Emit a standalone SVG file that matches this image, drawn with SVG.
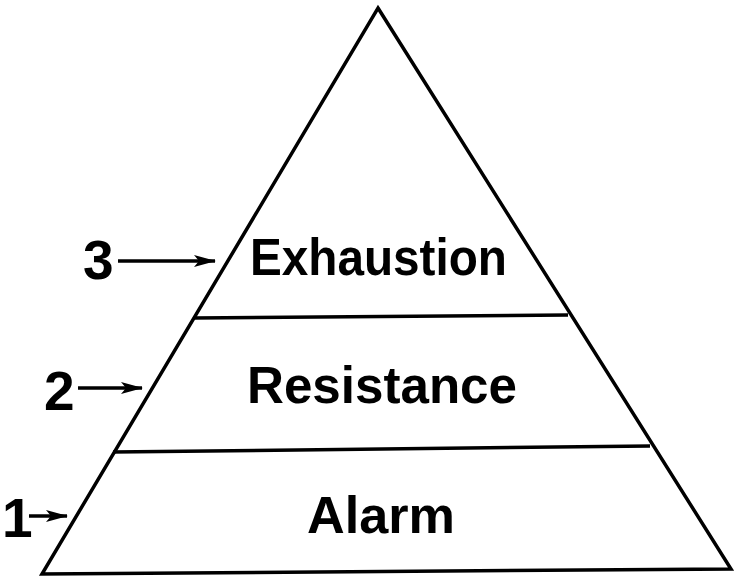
<svg xmlns="http://www.w3.org/2000/svg" width="734" height="576" viewBox="0 0 734 576">
<style>
.ln{stroke:#000;stroke-width:3.5;fill:none;stroke-linejoin:miter}
.lbl{font-family:"Liberation Sans","DejaVu Sans",sans-serif;font-weight:bold;fill:#000}
.num{font-family:"Liberation Sans","DejaVu Sans",sans-serif;font-weight:bold;fill:#000;font-size:55px}
.ar{stroke:#000;stroke-width:3.5;fill:none}
</style>
<defs>
<marker id="ah" markerWidth="22" markerHeight="12" refX="21" refY="6" orient="auto" markerUnits="userSpaceOnUse">
<path d="M0,0 L22,6 L0,12 L5,6 Z" fill="#000"/>
</marker>
</defs>
<g id="pyramid">
<path class="ln" d="M378,8 L731,569 L42,574 Z"/>
</g>
<g id="exhaustion">
<line class="ln" x1="193" y1="318" x2="568" y2="315"/>
<text class="lbl" x="250" y="275" font-size="52" textLength="257" lengthAdjust="spacingAndGlyphs">Exhaustion</text>
</g>
<g id="resistance">
<line class="ln" x1="113" y1="452" x2="650" y2="446"/>
<text class="lbl" x="247" y="403" font-size="52" textLength="270" lengthAdjust="spacingAndGlyphs">Resistance</text>
</g>
<g id="alarm">
<text class="lbl" x="307" y="533" font-size="52" textLength="148" lengthAdjust="spacingAndGlyphs">Alarm</text>
</g>
<g id="n3"><text class="num" x="83" y="279">3</text></g>
<g id="n2"><text class="num" x="44" y="410">2</text></g>
<g id="n1"><text class="num" x="2" y="537">1</text></g>
<g id="connectors">
<line class="ar" x1="118" y1="261" x2="215" y2="261" marker-end="url(#ah)"/>
<line class="ar" x1="78" y1="388" x2="142" y2="388" marker-end="url(#ah)"/>
<line class="ar" x1="29" y1="516" x2="67" y2="516" marker-end="url(#ah)"/>
</g>
</svg>
